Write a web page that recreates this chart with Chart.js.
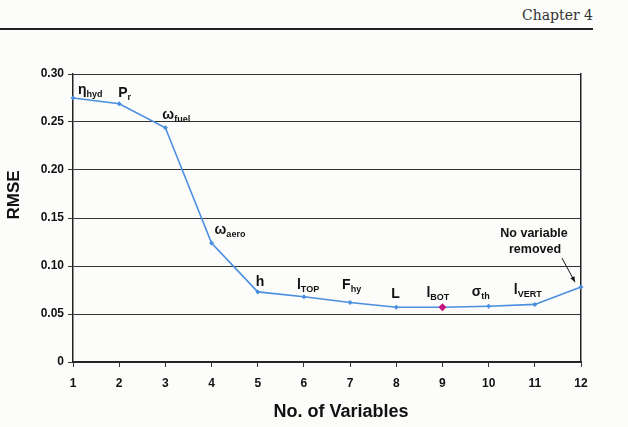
<!DOCTYPE html>
<html>
<head>
<meta charset="utf-8">
<script src="https://cdn.jsdelivr.net/npm/chart.js@4"></script>
<style>
  html, body { margin: 0; padding: 0; background: #fcfcfa; }
  #wrap { position: relative; width: 628px; height: 427px; overflow: hidden; }
  #chapter { position: absolute; right: 35px; top: 7px; font: 14px "DejaVu Serif", "Liberation Serif", serif; color: #333; }
  #rule { position: absolute; left: 0; top: 28px; width: 593px; height: 0; border-top: 2px solid #222; }
  canvas { position: absolute; left: 0; top: 0; }
</style>
</head>
<body>
<div id="wrap">
  <div id="chapter">Chapter 4</div>
  <div id="rule"></div>
  <canvas id="myChart" width="628" height="427"></canvas>
</div>
<script>
// number of variables kept in the model
const numVars = [1, 2, 3, 4, 5, 6, 7, 8, 9, 10, 11, 12];
// RMSE
const rmse = [0.275, 0.269, 0.244, 0.124, 0.073, 0.068, 0.062, 0.057, 0.057, 0.058, 0.060, 0.078];
// variable removed at each step: main symbol + subscript
const varNames = ["η", "P", "ω", "ω", "h", "l", "F", "L", "l", "σ", "l", ""];
const varSubs = ["hyd", "r", "fuel", "aero", "", "TOP", "hy", "", "BOT", "th", "VERT", ""];
const bestIndex = 8;
const yTicks = [0, 0.05, 0.10, 0.15, 0.20, 0.25, 0.30];

const blue = "#4a8fe0";
const magenta = "#c4137a";
const fontFamily = "'Liberation Sans', Arial, sans-serif";

// label offsets from each point (dx to left of text, dy to baseline)
const labelOffsets = [
    [5, -4], [-1, -7], [-3, -9], [3, -9], [-2, -6], [-7, -8],
    [-8, -13], [-5, -9], [-16, -10], [-17, -10], [-21, -10], [0, 0]
];

const labelPlugin = {
    id: "varLabels",
    afterDatasetsDraw(chart) {
        const ctx = chart.ctx;
        const area = chart.chartArea;
        const meta = chart.getDatasetMeta(0);
        ctx.save();
        ctx.fillStyle = "#111";
        ctx.textBaseline = "alphabetic";
        ctx.textAlign = "left";
        meta.data.forEach((pt, i) => {
            if (!varNames[i]) return;
            const x = pt.x + labelOffsets[i][0];
            const y = pt.y + labelOffsets[i][1];
            ctx.font = "bold 14px " + fontFamily;
            ctx.fillText(varNames[i], x, y);
            const w = ctx.measureText(varNames[i]).width;
            ctx.font = "bold 9px " + fontFamily;
            ctx.fillText(varSubs[i], x + w, y + 3);
        });

        // note for the last point
        const last = meta.data[meta.data.length - 1];
        ctx.font = "bold 12.5px " + fontFamily;
        ctx.textAlign = "center";
        ctx.textBaseline = "middle";
        ctx.fillText("No variable", last.x - 47, last.y - 54);
        ctx.fillText("removed", last.x - 46, last.y - 38);

        // arrow
        const x0 = last.x - 19, y0 = last.y - 29;
        const x1 = last.x - 6, y1 = last.y - 5;
        ctx.strokeStyle = "#111";
        ctx.lineWidth = 1;
        ctx.beginPath();
        ctx.moveTo(x0, y0);
        ctx.lineTo(x1, y1);
        ctx.stroke();
        const a = Math.atan2(y1 - y0, x1 - x0);
        ctx.beginPath();
        ctx.moveTo(x1, y1);
        ctx.lineTo(x1 - 6 * Math.cos(a - 0.4), y1 - 6 * Math.sin(a - 0.4));
        ctx.lineTo(x1 - 6 * Math.cos(a + 0.4), y1 - 6 * Math.sin(a + 0.4));
        ctx.closePath();
        ctx.fillStyle = "#111";
        ctx.fill();

        // axis titles (slightly off-centre in the original)
        ctx.fillStyle = "#111";
        ctx.font = "bold 18px " + fontFamily;
        ctx.fillText("No. of Variables", (area.left + area.right) / 2 + 14, 412);
        ctx.translate(14, 195);
        ctx.rotate(-Math.PI / 2);
        ctx.font = "bold 17px " + fontFamily;
        ctx.fillText("RMSE", 0, 0);
        ctx.restore();
    }
};

const tickFont = { family: fontFamily, size: 12, weight: "bold" };

new Chart("myChart", {
    type: "line",
    data: {
        datasets: [
            {
                data: numVars.map((n, i) => ({ x: n, y: rmse[i] })),
                borderColor: blue,
                borderWidth: 1.6,
                backgroundColor: numVars.map((n, i) => i === bestIndex ? magenta : blue),
                pointBorderColor: numVars.map((n, i) => i === bestIndex ? magenta : blue),
                pointStyle: "rectRot",
                pointRadius: numVars.map((n, i) => i === bestIndex ? 4 : 2.5),
                pointBorderWidth: 0,
                fill: false,
                tension: 0,
                clip: false,
            },
        ],
    },
    options: {
        responsive: false,
        animation: false,
        layout: { padding: { top: 74, right: 47, left: 0, bottom: 0 } },
        plugins: {
            legend: { display: false },
            tooltip: { enabled: false },
        },
        scales: {
            x: {
                type: "linear",
                min: 1,
                max: 12,
                afterFit: (s) => { s.height = 65; },
                ticks: { stepSize: 1, padding: 9, color: "#111", font: tickFont },
                grid: { drawOnChartArea: false, drawTicks: true, tickLength: 5, color: "#333" },
                border: { display: true, color: "#222", width: 1.5 },
            },
            y: {
                min: 0,
                max: 0.3,
                afterFit: (s) => { s.width = 73; },
                afterBuildTicks: (s) => { s.ticks = yTicks.map((v) => ({ value: v })); },
                ticks: {
                    padding: 4,
                    color: "#111",
                    font: tickFont,
                    callback: (v) => (v === 0 ? "0" : v.toFixed(2)),
                },
                grid: { color: "#333", lineWidth: 1, tickLength: 5 },
                border: { display: true, color: "#222", width: 1.5 },
            },
            y2: {
                position: "right",
                min: 0,
                max: 0.3,
                afterFit: (s) => { s.width = 0; },
                ticks: { display: false },
                grid: { drawOnChartArea: false, drawTicks: false },
                border: { display: true, color: "#222", width: 1.5 },
            },
        },
    },
    plugins: [labelPlugin],
});
</script>
</body>
</html>
